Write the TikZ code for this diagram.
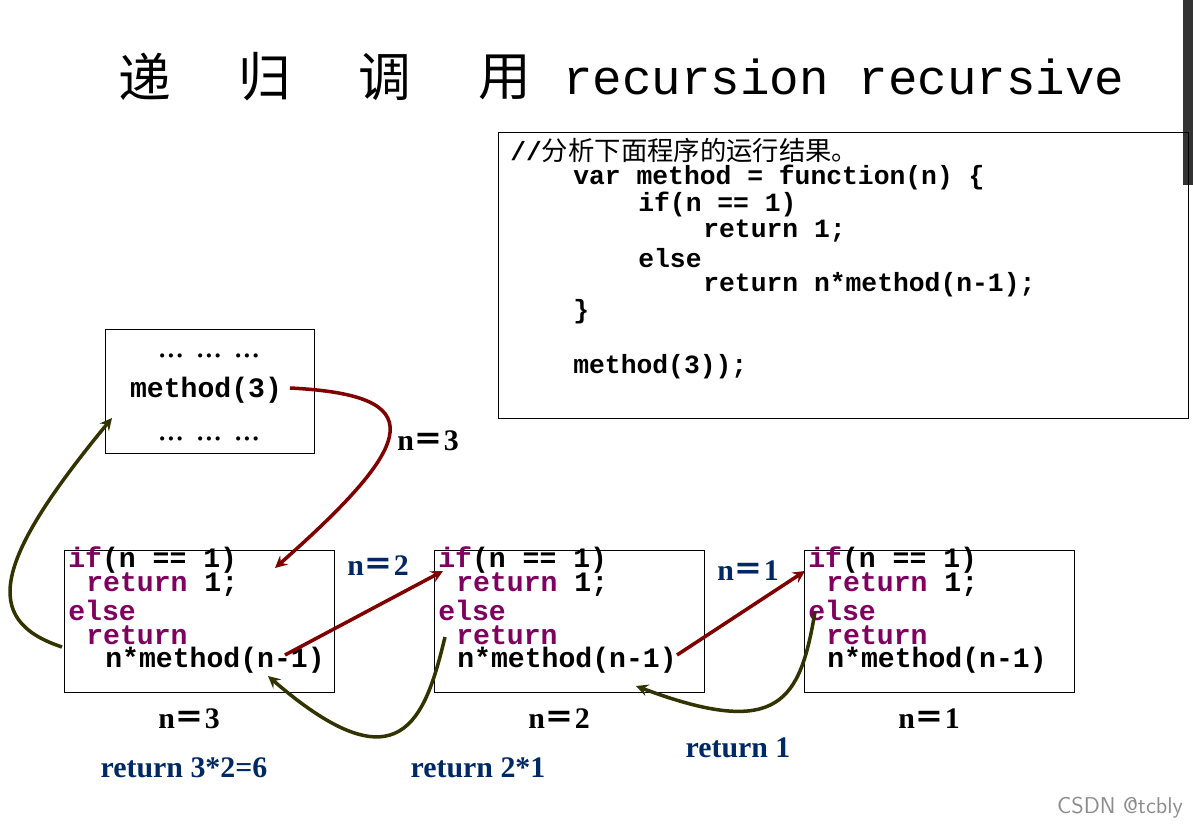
\documentclass[tikz,border=0pt]{standalone}
\usepackage{fontspec}
\setmainfont{Liberation Serif}
\newfontfamily\cjk{Noto Sans CJK SC}
\newfontfamily\mono{Liberation Mono}
\usetikzlibrary{positioning}
\definecolor{kwcol}{RGB}{128,0,96}
\definecolor{redarr}{RGB}{128,0,0}
\definecolor{olivearr}{RGB}{51,51,0}
\definecolor{lblblue}{RGB}{0,40,100}

\begin{document}
\begin{tikzpicture}[x=0.02cm,y=-0.02cm,
    code/.style={anchor=west,inner sep=0pt,font=\mono\bfseries\fontsize{16}{16}\selectfont},
    prog/.style={anchor=west,inner sep=0pt,font=\mono\bfseries\fontsize{15}{15}\selectfont},
    lbl/.style={inner sep=0pt,font=\bfseries\fontsize{17}{17}\selectfont},
    call/.style={->,redarr,line width=2pt,>=stealth},
    ret/.style={->,olivearr,line width=2pt,>=stealth}]

    \useasboundingbox (0,0) rectangle (1193,830);
    \fill[black!80] (1183,0) rectangle (1193,185);

    % title
    \foreach \c [count=\i] in {递,归,调,用}
      \node[inner sep=0pt,font=\cjk\fontsize{30}{30}\selectfont] (t\i) at (25+120*\i,77) {\c};
    \node[inner sep=0pt,anchor=west,font=\mono\fontsize{28}{28}\selectfont] (title) at (563,77) {recursion recursive};

    % program text
    \draw (498,132) rectangle (1188,418);
    \node[prog] (p0) at (510,150) {//{\cjk\mdseries 分析下面程序的运行结果。}};
    \node[prog] (p1) at (573,177) {var method = function(n) \{};
    \node[prog] (p2) at (638,204) {if(n == 1)};
    \node[prog] (p3) at (703,231) {return 1;};
    \node[prog] (p4) at (638,258) {else};
    \node[prog] (p5) at (703,285) {return n*method(n-1);};
    \node[prog] (p6) at (573,312) {\}};
    \node[prog] (p7) at (573,367) {method(3));};

    % caller
    \draw (105,329) rectangle (314,453);
    \node[lbl,font=\fontsize{20}{20}\selectfont] (dots1) at (209,356) {... ... ...};
    \node[code,anchor=center] (m3) at (206,390) {method(3)};
    \node[lbl,font=\fontsize{20}{20}\selectfont] (dots2) at (209,439) {... ... ...};

    % three calls
    \foreach \x/\n/\off in {64/3/41,434/2/23,804/1/23} {
      \draw (\x,550) rectangle ++(270,142);
      \node[code] (if\n) at (\x+4,560) {\textcolor{kwcol}{if}(n == 1)};
      \node[code] (r\n) at (\x+22,585) {\textcolor{kwcol}{return} 1;};
      \node[code] (else\n) at (\x+4,610) {\textcolor{kwcol}{else}};
      \node[code] (rr\n) at (\x+22,635) {\textcolor{kwcol}{return}};
      \node[code] (nm\n) at (\x+\off,660) {n*method(n-1)};
      \node[lbl] (under\n) at (\x+125,719) {n{\cjk ＝}\n};
    }

    \node[lbl] (l3) at (428,441) {n{\cjk ＝}3};
    \node[lbl,lblblue] (l2) at (378,566) {n{\cjk ＝}2};
    \node[lbl,lblblue] (l1) at (748,571) {n{\cjk ＝}1};
    \node[lbl,lblblue] (ret6) at (184,768) {return 3*2=6};
    \node[lbl,lblblue] (ret2) at (478,768) {return 2*1};
    \node[lbl,lblblue] (ret1) at (738,748) {return 1};
    \node[inner sep=0pt,black!45,font=\sffamily\fontsize{13}{13}\selectfont] (mark) at (1120,808) {CSDN @tcbly};

    % calls
    \coordinate (c3a) at (290,388); \coordinate (c3b) at (275,568);
    \coordinate (c2a) at (285,655); \coordinate (c2b) at (443,571);
    \coordinate (c1a) at (677,655); \coordinate (c1b) at (805,571);
    \draw[call] (c3a) .. controls (430,395) and (420,440) .. (c3b);
    \draw[call] (c2a) -- (c2b);
    \draw[call] (c1a) -- (c1b);

    % returns
    \coordinate (t3a) at (62,647); \coordinate (t3b) at (112,418);
    \coordinate (t2a) at (445,637); \coordinate (t2b) at (268,676);
    \coordinate (t1a) at (815,612); \coordinate (t1b) at (636,686);
    \draw[ret] (t3a) .. controls (-20,620) and (-5,560) .. (t3b);
    \draw[ret] (t2a) .. controls (425,720) and (400,790) .. (t2b);
    \draw[ret] (t1a) .. controls (800,700) and (780,740) .. (t1b);
\end{tikzpicture}
\end{document}
